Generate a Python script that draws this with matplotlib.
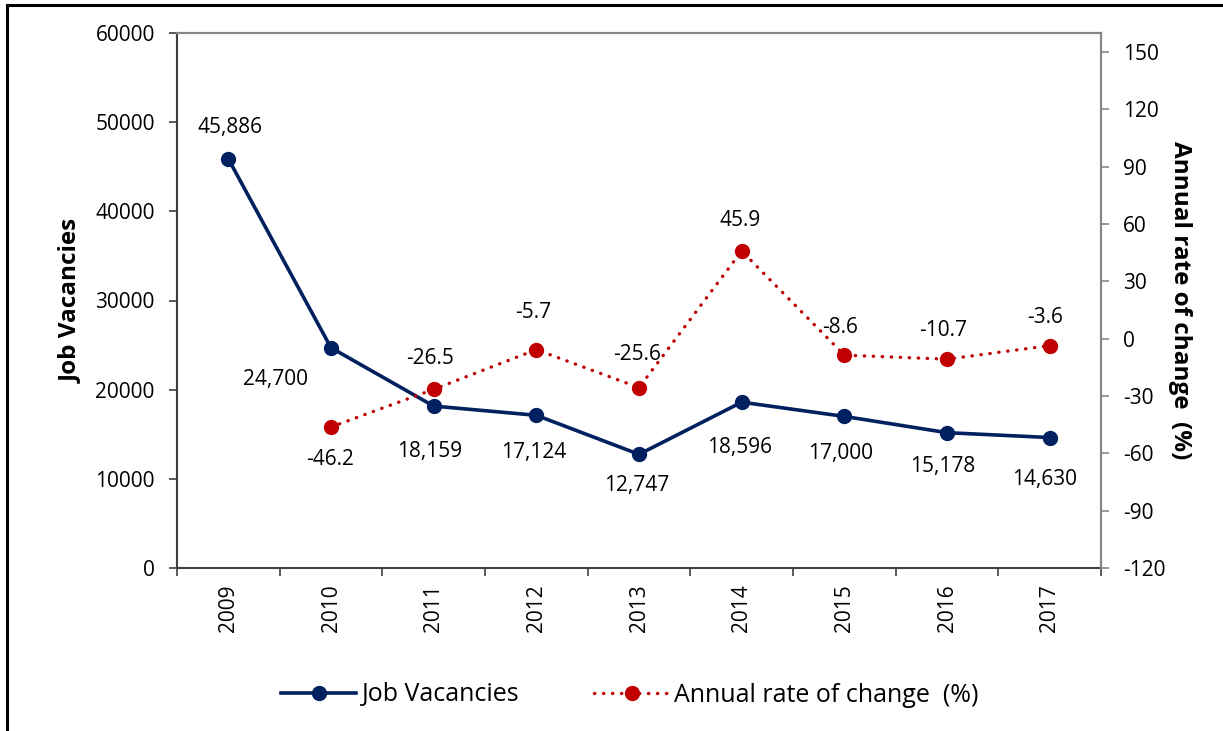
import numpy as np
import matplotlib
matplotlib.use("Agg")
import matplotlib.pyplot as plt
from matplotlib.lines import Line2D
from matplotlib.ticker import MultipleLocator, FixedLocator

plt.rcParams["font.family"] = ["Open Sans", "DejaVu Sans"]
plt.rcParams["axes.unicode_minus"] = False

years = ["2009", "2010", "2011", "2012", "2013", "2014", "2015", "2016", "2017"]
vacancies = [45886, 24700, 18159, 17124, 12747, 18596, 17000, 15178, 14630]
rate_change = [np.nan, -46.2, -26.5, -5.7, -25.6, 45.9, -8.6, -10.7, -3.6]

# label offsets in pixels (dx, dy) relative to each point
vac_offsets = [(2, 31), (-56, -32), (-4, -45), (-3, -37), (-2, -31),
               (-2, -45), (-4, -37), (-4, -34), (-5, -42)]
rate_offsets = [None, (-1, -33), (-4, 31), (-3, 37), (-2, 33),
                (-2, 31), (-4, 28), (-4, 29), (-5, 28)]

NAVY = "#002060"
RED = "#C00000"
DARK = "#404040"
GREY = "#868686"

W, H = 1223, 731
fig = plt.figure(figsize=(W / 100, H / 100), dpi=100)
ax = fig.add_axes([177 / W, 1 - 568 / H, (1101 - 177) / W, (568 - 33) / H])
ax2 = ax.twinx()

x = np.arange(len(years))

ax.plot(x, vacancies, color=NAVY, lw=2.6, marker="o", ms=10,
        label="Job Vacancies", zorder=3)
ax2.plot(x, rate_change, color=RED, lw=2.4, marker="o", ms=10,
         linestyle=(0, (0.1, 2.6)), dash_capstyle="round",
         label="Annual rate of change  (%)", zorder=3)

for xi, v, off in zip(x, vacancies, vac_offsets):
    ax.annotate(f"{v:,}", (xi, v), xytext=off, textcoords="offset pixels",
                ha="center", va="center", fontsize=15, color="black")
for xi, v, off in zip(x, rate_change, rate_offsets):
    if off is None or np.isnan(v):
        continue
    ax2.annotate(f"{v:.1f}", (xi, v), xytext=off, textcoords="offset pixels",
                 ha="center", va="center", fontsize=15, color="black")

ax.set_xlim(-0.5, len(years) - 0.5)
ax.set_ylim(0, 60000)
ax.yaxis.set_major_locator(MultipleLocator(10000))
ax2.set_ylim(-120, 160)
ax2.yaxis.set_major_locator(FixedLocator(np.arange(-120, 151, 30)))

ax.set_xticks(x)
ax.set_xticklabels(years, rotation=90, fontsize=15)
ax.xaxis.set_minor_locator(FixedLocator(np.arange(-0.5, len(years), 1)))
ax.tick_params(axis="x", which="major", length=0, pad=12)
ax.tick_params(axis="x", which="minor", length=6, width=1.2, color=DARK,
               direction="out")
ax.tick_params(axis="y", length=6, width=1.2, color=DARK, pad=10,
               labelsize=15)
ax2.tick_params(axis="y", length=6, width=1.2, color=GREY, pad=10,
                labelsize=15)

for side in ["left", "bottom"]:
    ax.spines[side].set_color(DARK)
    ax.spines[side].set_linewidth(1.5)
for a in (ax, ax2):
    for side in ["top", "right"]:
        a.spines[side].set_color(GREY)
        a.spines[side].set_linewidth(1.5)
ax2.spines["left"].set_visible(False)
ax2.spines["bottom"].set_visible(False)

ax.set_ylabel("Job Vacancies", fontsize=17.5, fontweight="bold", labelpad=9)
ax2.set_ylabel("Annual rate of change  (%)", fontsize=17.5, fontweight="bold",
               rotation=-90, labelpad=19)

h1, l1 = ax.get_legend_handles_labels()
h2, l2 = ax2.get_legend_handles_labels()
fig.legend(h1 + h2, l1 + l2, loc="center", ncol=2, frameon=False,
           bbox_to_anchor=(630 / W, 1 - 695 / H), fontsize=18,
           handlelength=3.0, columnspacing=3.0, handletextpad=0.2)

# outer frame (top and left edges visible in the original)
fig.add_artist(Line2D([7 / W, 7 / W], [0, 1 - 5 / H], color="black", lw=2.2,
                      transform=fig.transFigure, solid_capstyle="projecting"))
fig.add_artist(Line2D([7 / W, 1], [1 - 5 / H, 1 - 5 / H], color="black", lw=2.2,
                      transform=fig.transFigure, solid_capstyle="projecting"))

fig.savefig("out.png", dpi=100)
